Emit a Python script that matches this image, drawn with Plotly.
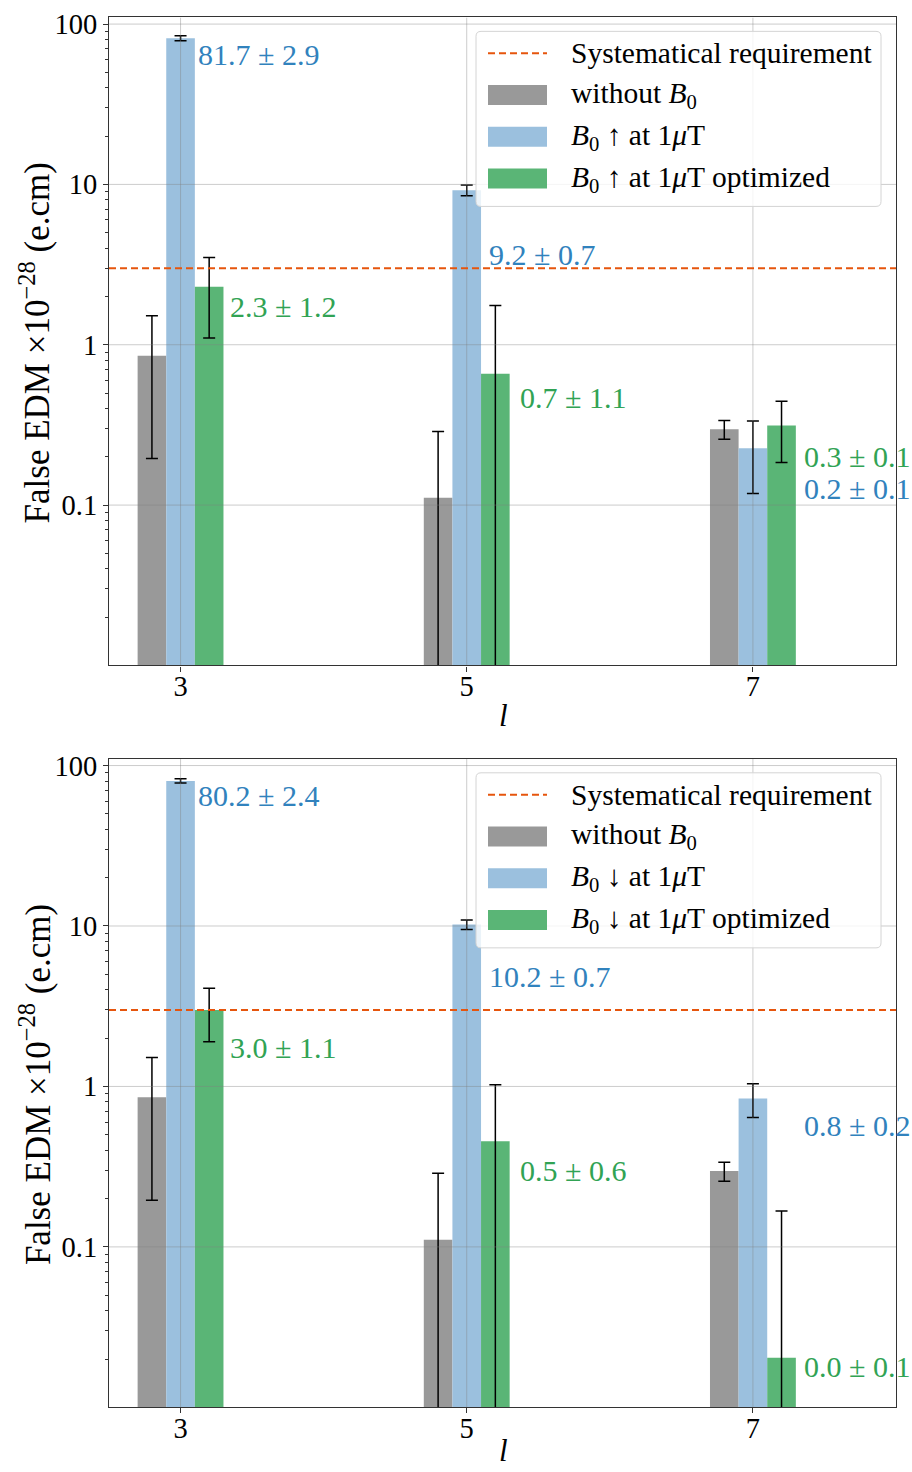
import math
import plotly.graph_objects as go

# ---------------- data ----------------
ls = [3, 5, 7]
x_range = [2.5, 8.0]
y_ticks = [0.1, 1, 10, 100]
y_ticktext = ["0.1", "1", "10", "100"]
requirement = 3.0

without_vals = [0.855, 0.111, 0.297]
without_err = [0.66, 0.177, 0.04]

up_vals = [81.7, 9.2, 0.226]
up_err = [2.9, 0.7, 0.108]
upopt_vals = [2.3, 0.66, 0.314]
upopt_err = [1.2, 1.1, 0.13]

down_vals = [80.2, 10.2, 0.84]
down_err = [2.4, 0.7, 0.2]
downopt_vals = [3.0, 0.455, 0.0204]
downopt_err = [1.1, 0.57, 0.147]

# ---------------- style ----------------
W, H = 912, 1472
FONT = "Liberation Serif"
GRAY = "#999999"
BLUE = "#9bc0de"
GREEN = "#5ab576"
BLUE_TXT = "#3182bd"
GREEN_TXT = "#31a354"
ORANGE = "#e6550d"
GRID = "rgba(128,128,128,0.4)"
minor_vals = [m * 10.0 ** e for e in range(-2, 2) for m in range(2, 10)]


def px(x):
    return x / W


def py(y):
    return 1 - y / H


fig = go.Figure()

panels = [
    dict(xa="x", ya="y", up=up_vals, upe=up_err, opt=upopt_vals, opte=upopt_err,
         arrow="↑", top=9.5, bottom=661, title_y=711,
         blue_label_y=[65, 3.67, 0.126], green_label_y=[1.72, 0.47, 0.2]),
    dict(xa="x2", ya="y2", up=down_vals, upe=down_err, opt=downopt_vals, opte=downopt_err,
         arrow="↓", top=755, bottom=1407, title_y=1450,
         blue_label_y=[65, 4.83, 0.573], green_label_y=[1.75, 0.30, 0.018]),
]
blue_label_dx = [0.11, 0.14, 0.34]
green_label_dx = [0.33, 0.36, 0.34]

annotations = []
shapes = []

for p in panels:
    err_style = dict(type="data", visible=True, color="black", thickness=1.5, width=6)
    series = [
        (without_vals, without_err, GRAY, -0.3),
        (p["up"], p["upe"], BLUE, -0.1),
        (p["opt"], p["opte"], GREEN, 0.1),
    ]
    for vals, errs, col, off in series:
        fig.add_trace(go.Bar(
            x=ls, y=vals, width=0.2, offset=off, marker=dict(color=col, line=dict(width=0)),
            error_y=dict(array=errs, **err_style),
            xaxis=p["xa"], yaxis=p["ya"], showlegend=False, hoverinfo="skip",
        ))
    # grid lines drawn above the bars
    for t in y_ticks:
        fig.add_trace(go.Scatter(x=x_range, y=[t, t], mode="lines",
                                 line=dict(color=GRID, width=1),
                                 xaxis=p["xa"], yaxis=p["ya"], showlegend=False, hoverinfo="skip"))
    for l in ls:
        fig.add_trace(go.Scatter(x=[l, l], y=[0.01, 110], mode="lines",
                                 line=dict(color=GRID, width=1),
                                 xaxis=p["xa"], yaxis=p["ya"], showlegend=False, hoverinfo="skip"))
    # requirement line
    fig.add_trace(go.Scatter(x=x_range, y=[requirement, requirement], mode="lines",
                             line=dict(color=ORANGE, width=2, dash="7px,4px"),
                             xaxis=p["xa"], yaxis=p["ya"], showlegend=False, hoverinfo="skip"))

    # value labels
    for i, l in enumerate(ls):
        annotations.append(dict(
            x=l + blue_label_dx[i], y=math.log10(p["blue_label_y"][i]), xref=p["xa"], yref=p["ya"],
            text=f"{p['up'][i]:.1f} ± {p['upe'][i]:.1f}", showarrow=False, xanchor="left",
            yanchor="middle", font=dict(family=FONT, size=30, color=BLUE_TXT)))
        annotations.append(dict(
            x=l + green_label_dx[i], y=math.log10(p["green_label_y"][i]), xref=p["xa"], yref=p["ya"],
            text=f"{p['opt'][i]:.1f} ± {p['opte'][i]:.1f}", showarrow=False, xanchor="left",
            yanchor="middle", font=dict(family=FONT, size=30, color=GREEN_TXT)))

    # axis titles
    annotations.append(dict(x=px(503), y=py(p["title_y"]), xref="paper", yref="paper",
                            text="<i>l</i>", showarrow=False, xanchor="center", yanchor="middle",
                            font=dict(family=FONT, size=31, color="black")))
    annotations.append(dict(x=px(35), y=py((p["top"] + p["bottom"]) / 2 + 2), xref="paper", yref="paper",
                            text="False EDM ×10<sup>−28</sup> (e.cm)", showarrow=False, textangle=-90,
                            xanchor="center", yanchor="middle",
                            font=dict(family=FONT, size=35, color="black")))

    # manual legend
    lt = p["top"] + 14
    lx0, lx1, ly0, ly1 = 476, 881, lt, lt + 176
    r = 5
    path = (f"M {px(lx0 + r)},{py(ly0)} L {px(lx1 - r)},{py(ly0)} "
            f"Q {px(lx1)},{py(ly0)} {px(lx1)},{py(ly0 + r)} L {px(lx1)},{py(ly1 - r)} "
            f"Q {px(lx1)},{py(ly1)} {px(lx1 - r)},{py(ly1)} L {px(lx0 + r)},{py(ly1)} "
            f"Q {px(lx0)},{py(ly1)} {px(lx0)},{py(ly1 - r)} L {px(lx0)},{py(ly0 + r)} "
            f"Q {px(lx0)},{py(ly0)} {px(lx0 + r)},{py(ly0)} Z")
    shapes.append(dict(type="path", path=path, xref="paper", yref="paper",
                       fillcolor="rgba(255,255,255,0.8)", line=dict(color="#d4d4d4", width=1),
                       layer="above"))
    rows = [lt + 22, lt + 64, lt + 106, lt + 148]
    a = p["arrow"]
    labels = ["Systematical requirement",
              "without <i>B</i><sub>0</sub>",
              f"<i>B</i><sub>0</sub> {a} at 1<i>μ</i>T",
              f"<i>B</i><sub>0</sub> {a} at 1<i>μ</i>T optimized"]
    shapes.append(dict(type="line", xref="paper", yref="paper", x0=px(488), x1=px(547),
                       y0=py(rows[0]), y1=py(rows[0]), line=dict(color=ORANGE, width=2, dash="7px,4px"),
                       layer="above"))
    for ry, col in zip(rows[1:], [GRAY, BLUE, GREEN]):
        shapes.append(dict(type="rect", xref="paper", yref="paper", x0=px(488), x1=px(547),
                           y0=py(ry - 10), y1=py(ry + 10), fillcolor=col, line=dict(width=0),
                           layer="above"))
    for ry, txt in zip(rows, labels):
        annotations.append(dict(x=px(569), y=py(ry), xref="paper", yref="paper", text=txt,
                                showarrow=False, xanchor="left", yanchor="middle",
                                font=dict(family=FONT, size=29.5, color="black")))

axis_common = dict(showline=True, mirror=True, linecolor="#333333", linewidth=1.2,
                   ticks="outside", tickcolor="#333333", ticklen=5, showgrid=False,
                   zeroline=False, tickfont=dict(family=FONT, size=28.5, color="black"))
xdom = [px(109), px(896)]
yr = [-2, math.log10(110)]
minor_cfg = dict(ticks="outside", ticklen=3, tickcolor="#333333", showgrid=False, tickvals=minor_vals)

fig.update_layout(
    width=W, height=H, margin=dict(l=0, r=0, t=0, b=0),
    paper_bgcolor="white", plot_bgcolor="white", showlegend=False,
    barmode="overlay",
    xaxis=dict(domain=xdom, range=x_range, tickvals=ls, anchor="y", ticklabelstandoff=-10, **axis_common),
    yaxis=dict(domain=[py(661), py(9.5)], type="log", range=yr, tickvals=y_ticks,
               ticktext=y_ticktext, anchor="x", minor=minor_cfg, **axis_common),
    xaxis2=dict(domain=xdom, range=x_range, tickvals=ls, anchor="y2", ticklabelstandoff=-10, **axis_common),
    yaxis2=dict(domain=[py(1407), py(755)], type="log", range=yr, tickvals=y_ticks,
                ticktext=y_ticktext, anchor="x2", minor=minor_cfg, **axis_common),
    annotations=annotations, shapes=shapes,
)

post = ("document.documentElement.style.margin='0';document.body.style.margin='0';"
        "document.body.style.padding='0';document.body.style.overflow='hidden';"
        "var d=document.getElementById('{plot_id}');d.style.position='absolute';"
        "d.style.top='0px';d.style.left='0px';")
fig.write_html("out.html", post_script=post, config={"displayModeBar": False})
